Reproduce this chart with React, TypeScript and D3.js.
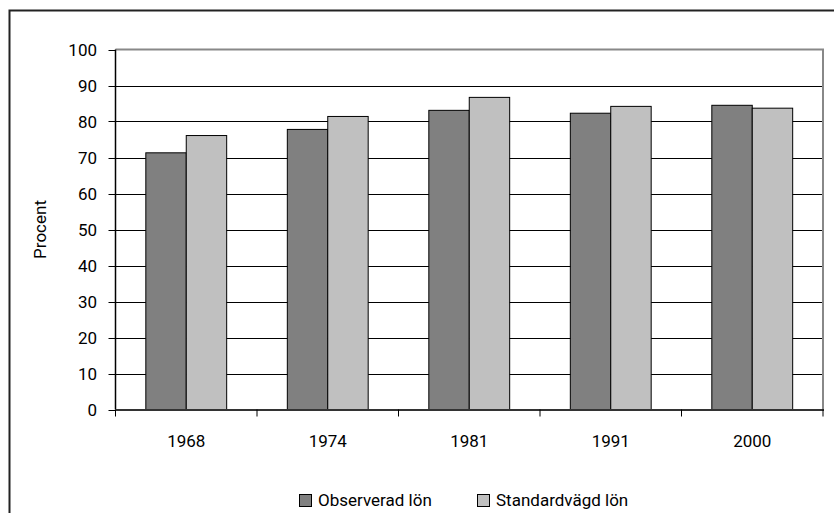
import React from "react";
import * as d3 from "d3";

const years = ["1968", "1974", "1981", "1991", "2000"];
const observerad = [71.3, 77.8, 83.1, 82.3, 84.5];
const standardvagd = [76.1, 81.4, 86.7, 84.2, 83.7];
const seriesNames = ["Observerad lön", "Standardvägd lön"];
const seriesColors = ["#808080", "#c0c0c0"];
const yTicks = [0, 10, 20, 30, 40, 50, 60, 70, 80, 90, 100];

const W = 834;
const H = 513;
const plot = { left: 115.5, right: 823, top: 49.5, bottom: 409.5 };
const font = "Roboto, 'Liberation Sans', sans-serif";
const fs = 17;

export default function App() {
  const x = d3
    .scaleBand<string>()
    .domain(years)
    .range([plot.left, plot.right])
    .paddingInner(0)
    .paddingOuter(0);

  // excel-style gap width 150%: 0.75 bar width on each side of the pair
  const inner = d3
    .scaleBand<number>()
    .domain([0, 1])
    .range([0, x.bandwidth()])
    .paddingInner(0)
    .paddingOuter(0.75);

  const y = d3.scaleLinear().domain([0, 100]).range([plot.bottom, plot.top]);

  const series = [observerad, standardvagd];

  return (
    <svg
      width={W}
      height={H}
      style={{ position: "absolute", left: 0, top: 0, background: "#fff" }}
      fontFamily={font}
    >
      {/* outer frame, runs off the right and bottom edge */}
      <rect x={9.5} y={10.5} width={W + 20} height={H + 20} fill="#fff" stroke="#222" strokeWidth={2} />

      {/* gridlines */}
      {yTicks.slice(1, -1).map((t) => (
        <line key={t} x1={plot.left} x2={plot.right} y1={Math.round(y(t)) + 0.5} y2={Math.round(y(t)) + 0.5} stroke="#000" strokeWidth={1} />
      ))}

      {/* plot border top & right */}
      <polyline
        points={`${plot.left},${plot.top} ${plot.right},${plot.top} ${plot.right},${plot.bottom}`}
        fill="none"
        stroke="#888"
        strokeWidth={2}
      />

      {/* bars */}
      {series.map((vals, si) =>
        vals.map((v, i) => (
          <rect
            key={`${si}-${i}`}
            x={(x(years[i]) ?? 0) + (inner(si) ?? 0)}
            y={y(v)}
            width={inner.bandwidth()}
            height={plot.bottom - y(v)}
            fill={seriesColors[si]}
            stroke="#000"
            strokeWidth={1}
          />
        ))
      )}

      {/* y axis */}
      <line x1={plot.left} x2={plot.left} y1={plot.top} y2={plot.bottom} stroke="#000" strokeWidth={1.5} />
      {yTicks.map((t) => (
        <g key={t}>
          <line x1={plot.left - 7} x2={plot.left} y1={Math.round(y(t)) + 0.5} y2={Math.round(y(t)) + 0.5} stroke="#000" />
          <text x={97} y={y(t)} dy="0.36em" textAnchor="end" fontSize={fs} fill="#000">
            {t}
          </text>
        </g>
      ))}

      {/* x axis */}
      <line x1={plot.left} x2={plot.right + 1} y1={plot.bottom + 0.5} y2={plot.bottom + 0.5} stroke="#333" strokeWidth={2} />
      {[...years.map((yr) => x(yr) ?? 0), plot.right].map((px, i) => (
        <line key={i} x1={px} x2={px} y1={plot.bottom} y2={plot.bottom + 7} stroke="#000" />
      ))}
      {years.map((yr) => (
        <text
          key={yr}
          x={(x(yr) ?? 0) + x.bandwidth() / 2}
          y={447}
          textAnchor="middle"
          fontSize={fs}
          fill="#000"
        >
          {yr}
        </text>
      ))}

      {/* y label */}
      <text
        transform={`translate(46, ${(plot.top + plot.bottom) / 2}) rotate(-90)`}
        textAnchor="middle"
        fontSize={fs}
        fill="#000"
      >
        Procent
      </text>

      {/* legend */}
      {seriesNames.map((name, i) => {
        const lx = i === 0 ? 299 : 477;
        return (
          <g key={name} transform={`translate(${lx}, 494)`}>
            <rect x={0.5} y={0.5} width={12} height={12} fill={seriesColors[i]} stroke="#000" />
            <text x={19} y={12} fontSize={fs} fill="#000">
              {name}
            </text>
          </g>
        );
      })}
    </svg>
  );
}
